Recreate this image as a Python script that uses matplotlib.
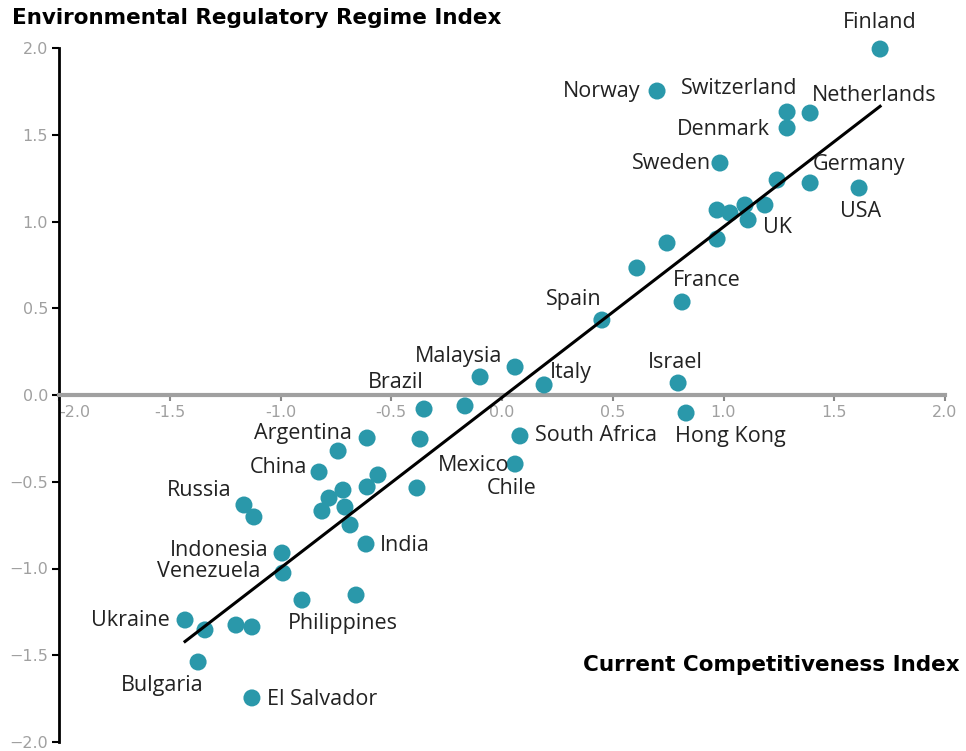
import numpy as np
import matplotlib
matplotlib.use("Agg")
import matplotlib.pyplot as plt

# --- dati ---
countries = ["Finland", "Norway", "Switzerland", "Netherlands", "Denmark", "Sweden", "",
             "Germany", "USA", "", "", "", "", "UK", "", "", "",
             "France", "Spain", "Malaysia", "", "Italy", "Israel", "Hong Kong",
             "Brazil", "", "South Africa", "Mexico", "Argentina", "", "", "China",
             "", "", "", "", "", "", "", "", "India", "Russia", "", "Indonesia",
             "Venezuela", "Philippines", "", "Ukraine", "", "", "", "Bulgaria", "El Salvador"]

cci = [1.707, 0.700, 1.287, 1.391, 1.287, 0.984, 1.242,
       1.391, 1.612, 0.971, 1.029, 1.097, 1.187, 1.111, 0.971, 0.745, 0.609,
       0.813, 0.451, -0.099, 0.059, 0.190, 0.795, 0.831,
       -0.352, -0.167, 0.081, 0.059, -0.609, -0.370, -0.740, -0.826,
       -0.560, -0.609, -0.384, -0.718, -0.781, -0.813, -0.709, -0.686, -0.614, -1.165, -1.120, -0.993,
       -0.989, -0.903, -0.659, -1.431, -1.341, -1.201, -1.129, -1.372, -1.129]

err = [1.994, 1.752, 1.631, 1.625, 1.539, 1.337, 1.239,
       1.222, 1.193, 1.066, 1.049, 1.095, 1.095, 1.009, 0.899, 0.876, 0.732,
       0.536, 0.432, 0.104, 0.161, 0.058, 0.069, -0.104,
       -0.081, -0.063, -0.236, -0.398, -0.248, -0.254, -0.323, -0.444,
       -0.461, -0.530, -0.536, -0.548, -0.594, -0.669, -0.646, -0.749, -0.859, -0.634, -0.703, -0.911,
       -1.026, -1.182, -1.153, -1.297, -1.354, -1.326, -1.337, -1.539, -1.746]

# retta di regressione
trend_slope = 0.983
trend_intercept = -0.014

ticks = [-2.0, -1.5, -1.0, -0.5, 0.0, 0.5, 1.0, 1.5, 2.0]

# etichette: testo -> (paese di riferimento, dx px, dy px, allineamento)
labels = {
    "Finland": ("Finland", 0, 27, "center"),
    "Norway": ("Norway", -17, 0, "right"),
    "Switzerland": ("Switzerland", 10, 24, "right"),
    "Netherlands": ("Netherlands", 2, 18, "left"),
    "Denmark": ("Denmark", -17, -2, "right"),
    "Sweden": ("Sweden", -9, 0, "right"),
    "Germany": ("Germany", 3, 18, "left"),
    "USA": ("USA", 2, -23, "center"),
    "UK": ("UK", 15, -8, "left"),
    "France": ("France", -9, 22, "left"),
    "Spain": ("Spain", 0, 21, "right"),
    "Malaysia": ("Malaysia", 22, 20, "right"),
    "Italy": ("Italy", 6, 12, "left"),
    "Israel": ("Israel", -3, 21, "center"),
    "Brazil": ("Brazil", 0, 27, "right"),
    "Hong Kong": ("Hong Kong", -11, -23, "left"),
    "South Africa": ("South Africa", 15, 0, "left"),
    "Mexico": ("Mexico", -6, -1, "right"),
    "Chile": ("Mexico", -28, -24, "left"),
    "Argentina": ("Argentina", -15, 5, "right"),
    "China": ("China", -12, 5, "right"),
    "Russia": ("Russia", -12, 14, "right"),
    "India": ("India", 14, -1, "left"),
    "Indonesia": ("Indonesia", -14, 3, "right"),
    "Venezuela": ("Venezuela", -23, 2, "right"),
    "Philippines": ("Philippines", -14, -23, "left"),
    "Ukraine": ("Ukraine", -15, 0, "right"),
    "Bulgaria": ("Bulgaria", 5, -23, "right"),
    "El Salvador": ("El Salvador", 15, -2, "left"),
}

# --- Plot ---
fig = plt.figure(figsize=(9.66, 7.51), dpi=100)
ax = fig.add_axes([59 / 966, 9 / 751, 886 / 966, 694 / 751])

teal = "#2a98aa"
ax.scatter(cci, err, s=150, color=teal, edgecolors="none", zorder=3, clip_on=False)

xs = np.array([min(cci), max(cci)])
ax.plot(xs, trend_slope * xs + trend_intercept, color="black", lw=2.2, zorder=4)

ax.set_xlim(-2.0, 2.0)
ax.set_ylim(-2.0, 2.0)

ax.spines["top"].set_visible(False)
ax.spines["right"].set_visible(False)
ax.spines["bottom"].set_position(("data", 0))
ax.spines["bottom"].set_color("#a0a0a0")
ax.spines["bottom"].set_linewidth(3)
ax.spines["left"].set_linewidth(2)

ax.set_xticks(ticks)
ax.set_yticks(ticks)
ax.set_xticklabels([f"{t:.1f}" for t in ticks])
ax.set_yticklabels([f"{t:.1f}".replace("-", "\u2212") for t in ticks])
ax.tick_params(axis="x", colors="#8a8a8a", labelcolor="#a0a0a0", length=4, width=1.5,
               labelsize=11.5, pad=3)
ax.tick_params(axis="y", color="black", labelcolor="#a0a0a0", length=5, width=1.5,
               labelsize=11.5, pad=3)
ax.get_xticklabels()[0].set_horizontalalignment("left")
for lab in ax.get_xticklabels() + ax.get_yticklabels():
    lab.set_family("DejaVu Sans")

for text, (ref, dx, dy, ha) in labels.items():
    i = countries.index(ref)
    ax.annotate(text, (cci[i], err[i]), xytext=(dx * 0.72, dy * 0.72),
                textcoords="offset points", ha=ha, va="center",
                fontsize=15.5, family="Open Sans", color="#222222", zorder=5)

fig.text(12 / 966, 1 - 18 / 751, "Environmental Regulatory Regime Index",
         fontsize=15.5, fontweight="bold", family="DejaVu Sans", va="center", ha="left")
fig.text(960 / 966, 1 - 665 / 751, "Current Competitiveness Index",
         fontsize=15.5, fontweight="bold", family="DejaVu Sans", va="center", ha="right")

fig.savefig("out.png", dpi=100)
